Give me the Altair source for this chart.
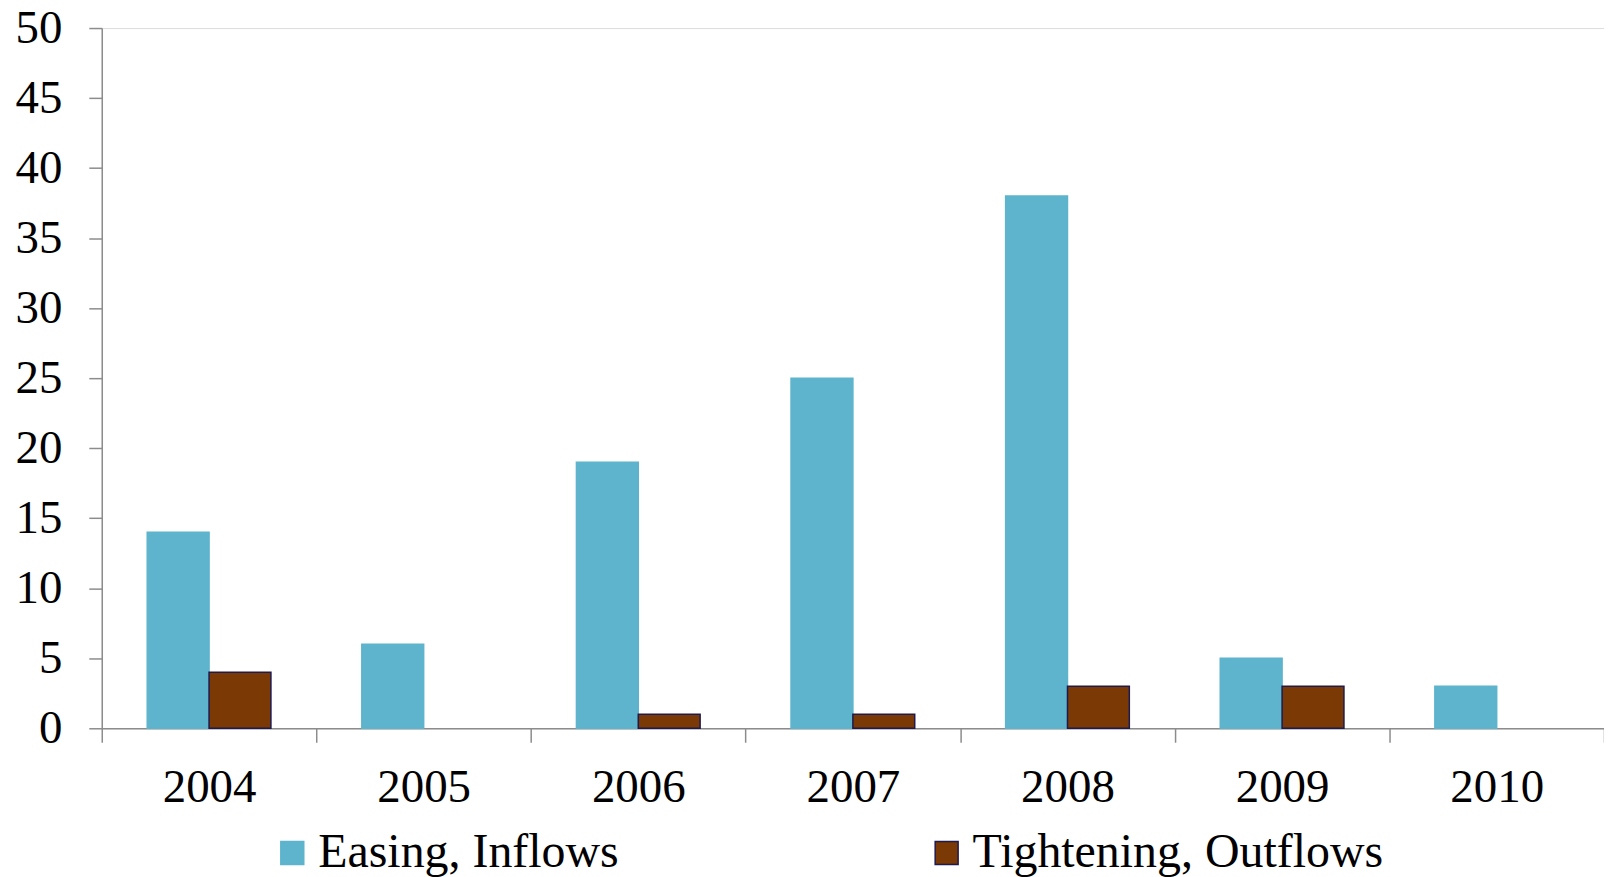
import altair as alt
import pandas as pd

years = ["2004", "2005", "2006", "2007", "2008", "2009", "2010"]
easing = [14, 6, 19, 25, 38, 5, 3]
tightening = [4, 0, 1, 1, 3, 3, 0]
series_names = ["Easing, Inflows", "Tightening, Outflows"]
fill_colors = ["#5DB4CC", "#7A3905"]
stroke_colors = ["#5DB4CC", "#1E1A4E"]

rows = []
for y, e, t in zip(years, easing, tightening):
    rows.append({"year": y, "series": series_names[0], "value": e})
    rows.append({"year": y, "series": series_names[1], "value": t})
df = pd.DataFrame(rows)
df = df[df["value"] > 0]

FONT = "Liberation Serif"

legend_opts = dict(
    title=None,
    orient="none",
    legendX=167,
    legendY=803,
    direction="horizontal",
    symbolType="square",
    symbolSize=529,
    symbolStrokeWidth=1.5,
    labelFont=FONT,
    labelFontSize=48,
    labelColor="black",
    labelOffset=2,
    labelLimit=0,
    columnPadding=304,
    padding=0,
)

chart = (
    alt.Chart(df)
    .mark_bar(strokeWidth=1.5)
    .encode(
        x=alt.X(
            "year:N",
            sort=years,
            scale=alt.Scale(domain=years, paddingInner=0, paddingOuter=0),
            axis=alt.Axis(
                title=None,
                labelAngle=0,
                labelFont=FONT,
                labelFontSize=47,
                labelColor="black",
                labelPadding=22,
                tickSize=14,
                tickColor="#8c8c8c",
                domainColor="#8c8c8c",
                tickWidth=1.5,
                domainWidth=1.5,
                tickBand="extent",
            ),
        ),
        xOffset=alt.XOffset(
            "series:N",
            scale=alt.Scale(domain=series_names, paddingInner=0, paddingOuter=0.735),
        ),
        y=alt.Y(
            "value:Q",
            scale=alt.Scale(domain=[0, 50], nice=False),
            axis=alt.Axis(
                title=None,
                values=list(range(0, 51, 5)),
                grid=False,
                labelFont=FONT,
                labelFontSize=47,
                labelColor="black",
                labelPadding=27,
                tickSize=13,
                tickColor="#8c8c8c",
                domainColor="#8c8c8c",
                tickWidth=1.5,
                domainWidth=1.5,
            ),
        ),
        color=alt.Color(
            "series:N",
            scale=alt.Scale(domain=series_names, range=fill_colors),
            legend=alt.Legend(**legend_opts),
        ),
        stroke=alt.Stroke(
            "series:N",
            scale=alt.Scale(domain=series_names, range=stroke_colors),
            legend=alt.Legend(**legend_opts),
        ),
    )
    .properties(
        width=1506,
        height=702,
        autosize=alt.AutoSizeParams(type="none"),
        padding={"left": 94, "top": 19, "right": 0, "bottom": 148},
    )
    .configure_view(stroke=None)
    .configure(background="white")
)

chart.save("out.html", embed_options={"renderer": "svg", "actions": False})
